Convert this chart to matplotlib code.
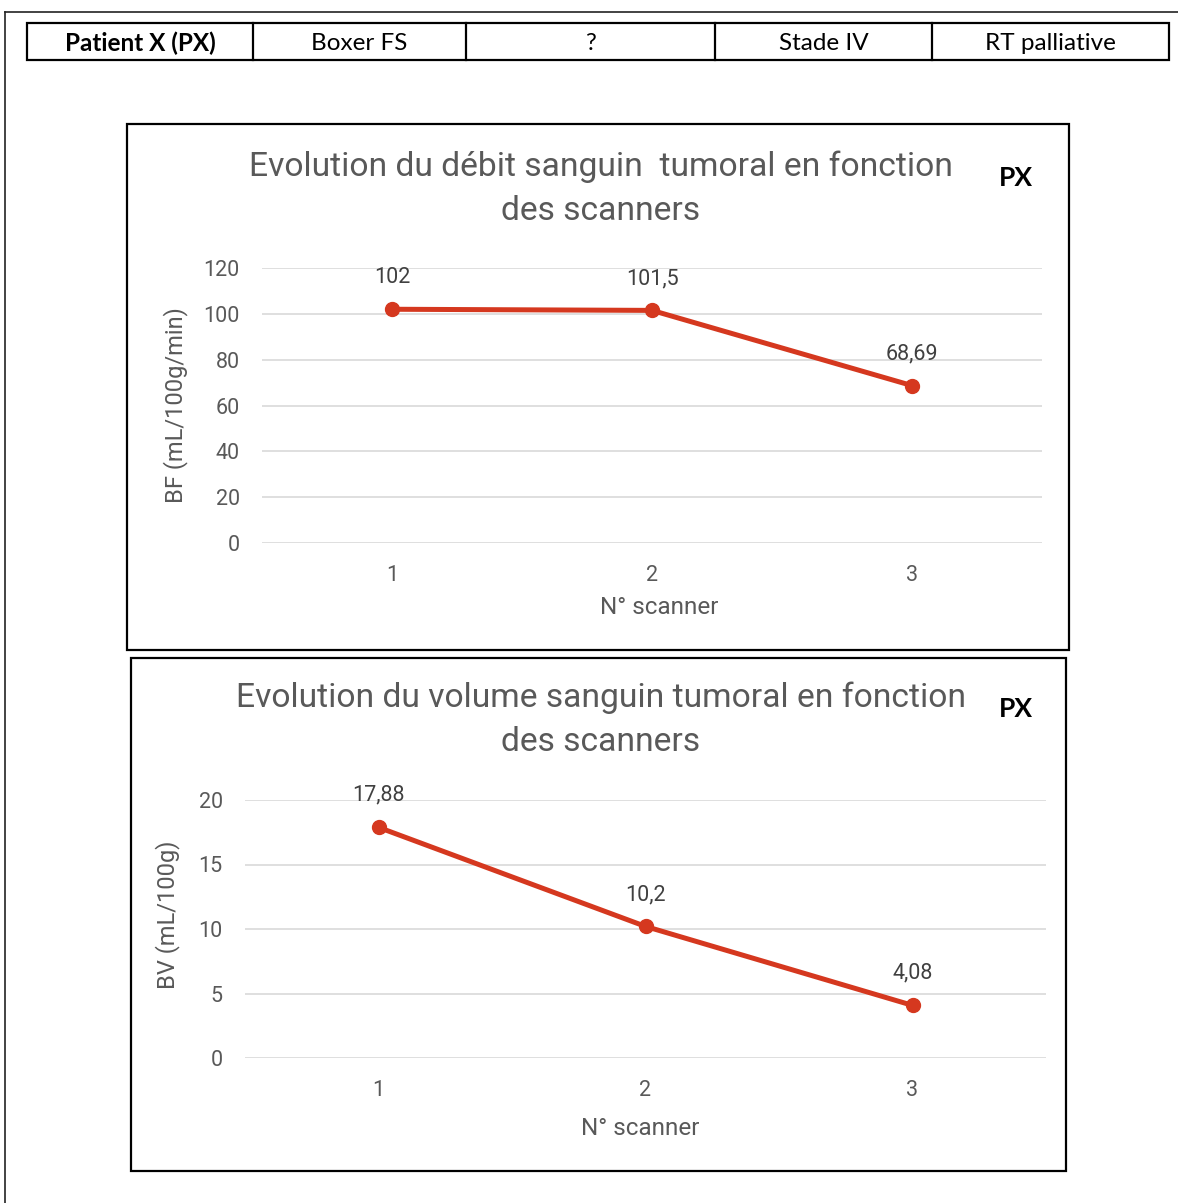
import matplotlib
matplotlib.use("Agg")
import matplotlib.pyplot as plt
from matplotlib.patches import Rectangle
from matplotlib.lines import Line2D

W, H = 1178, 1203

# data
table_cells = ["Patient X (PX)", "Boxer FS", "?", "Stade IV", "RT palliative"]
scanners = [1, 2, 3]
bf_values = [102, 101.5, 68.69]
bf_labels = ["102", "101,5", "68,69"]
bv_values = [17.88, 10.2, 4.08]
bv_labels = ["17,88", "10,2", "4,08"]

title_bf = "Evolution du débit sanguin  tumoral en fonction\ndes scanners"
title_bv = "Evolution du volume sanguin tumoral en fonction\ndes scanners"

red = "#D5381F"
grey_txt = "#595959"
grid_col = "#D9D9D9"
chart_font = ["Roboto", "DejaVu Sans"]
doc_font = ["Lato", "DejaVu Sans"]

fig = plt.figure(figsize=(W / 100, H / 100), dpi=100)


def fx(x):
    return x / W


def fy(y):
    return 1 - y / H


def box(x0, y0, x1, y1, lw=1.6, color="black"):
    fig.patches.append(Rectangle((fx(x0), fy(y1)), fx(x1 - x0), (y1 - y0) / H,
                                 transform=fig.transFigure, fill=False,
                                 lw=lw, edgecolor=color))


# outer page frame
fig.add_artist(Line2D([fx(5), fx(5)], [fy(12), fy(1203)], color="#222222", lw=1.2))
fig.add_artist(Line2D([fx(5), fx(1178)], [fy(12), fy(12)], color="#222222", lw=1.2))

# header table
cols = [27, 253, 466, 715, 932, 1169]
box(cols[0], 23, cols[-1], 60, lw=1.6)
for c in cols[1:-1]:
    fig.add_artist(Line2D([fx(c), fx(c)], [fy(23), fy(60)], color="black", lw=1.6))
for i, txt in enumerate(table_cells):
    fig.text(fx((cols[i] + cols[i + 1]) / 2), fy(43), txt, ha="center", va="center",
             fontsize=17.5, family=doc_font, fontweight="bold" if i == 0 else "normal",
             color="black")

# chart frames
box(127, 124, 1069, 650, lw=1.6)
box(131, 658, 1066, 1171, lw=1.6)


def line_chart(pos, values, labels, ylim, yticks, ylabel, title, title_y,
               ylabel_xy, xlabel_xy):
    x0, ytop, x1, ybot = pos
    ax = fig.add_axes([fx(x0), fy(ybot), fx(x1 - x0), (ybot - ytop) / H])
    ax.plot(scanners, values, color=red, lw=3.6, marker="o", ms=10,
            solid_capstyle="round", zorder=3)
    for xv, yv, lab in zip(scanners, values, labels):
        ax.annotate(lab, (xv, yv), xytext=(0, 23), textcoords="offset points",
                    ha="center", va="center", fontsize=15.5, color="#404040",
                    family=chart_font)
    ax.set_xlim(0.5, 3.5)
    ax.set_ylim(*ylim)
    ax.set_yticks(yticks)
    ax.set_xticks(scanners)
    ax.grid(axis="y", color=grid_col, lw=1.2)
    ax.set_axisbelow(True)
    for s in ax.spines.values():
        s.set_visible(False)
    ax.tick_params(length=0, labelsize=15.5, labelcolor=grey_txt)
    ax.tick_params(axis="y", pad=16)
    ax.tick_params(axis="x", pad=16)
    for t in ax.get_xticklabels() + ax.get_yticklabels():
        t.set_family(chart_font)
    ax.set_xlabel("N° scanner", fontsize=17.5, color=grey_txt, family=chart_font)
    ax.xaxis.set_label_coords(*xlabel_xy)
    ax.set_ylabel(ylabel, fontsize=17, color=grey_txt, family=chart_font)
    ax.yaxis.set_label_coords(*ylabel_xy)
    fig.text(fx(601), fy(title_y), title, ha="center", va="center", fontsize=24.2,
             color=grey_txt, family=chart_font, linespacing=1.5, multialignment="center")
    fig.text(fx(1016), fy(title_y - 11), "PX", ha="center", va="center", fontsize=19,
             fontweight="bold", family=doc_font, color="black")
    return ax


line_chart((262, 268, 1042, 543), bf_values, bf_labels, (0, 120), range(0, 121, 20),
           "BF (mL/100g/min)", title_bf, 189, (-0.095, 0.5),
           ((659 - 262) / 780, -(596 - 543) / 275))
line_chart((245, 800, 1046, 1058), bv_values, bv_labels, (0, 20), range(0, 21, 5),
           "BV (mL/100g)", title_bv, 720, (-0.081, 0.554),
           ((640 - 245) / 801, -(1117 - 1058) / 258))

fig.savefig("out.png", dpi=100, facecolor="white")
